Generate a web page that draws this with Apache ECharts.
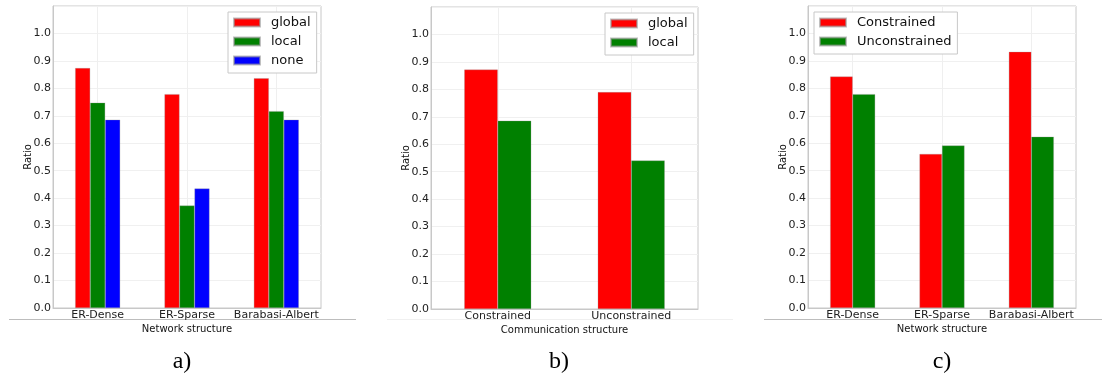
<!DOCTYPE html>
<html>
<head>
<meta charset="utf-8">
<script src="https://cdn.jsdelivr.net/npm/echarts@6/dist/echarts.min.js"></script>
<style>
html,body{margin:0;padding:0;background:#fff;}
#chart{width:1102px;height:379px;}
</style>
</head>
<body>
<div id="chart"></div>
<script>
// Panel a
const catsA = ['ER-Dense', 'ER-Sparse', 'Barabasi-Albert'];
const globalA = [0.874, 0.779, 0.837];
const localA = [0.748, 0.373, 0.717];
const noneA = [0.686, 0.435, 0.686];
// Panel b
const catsB = ['Constrained', 'Unconstrained'];
const globalB = [0.872, 0.790];
const localB = [0.686, 0.541];
// Panel c
const catsC = ['ER-Dense', 'ER-Sparse', 'Barabasi-Albert'];
const constrainedC = [0.843, 0.561, 0.933];
const unconstrainedC = [0.779, 0.592, 0.624];
// Axis tick labels
const yTicks = [0.0, 0.1, 0.2, 0.3, 0.4, 0.5, 0.6, 0.7, 0.8, 0.9, 1.0];

const RED = '#ff0000', GREEN = '#008000', BLUE = '#0000ff';
const FONT = 'DejaVu Sans';

const grids = [
  {left: 53, top: 6, width: 268, height: 302},
  {left: 431, top: 7, width: 267, height: 302},
  {left: 808, top: 6, width: 268, height: 302}
];

function xAx(i, cats, name) {
  return {
    type: 'category', gridIndex: i, data: cats,
    name: name, nameLocation: 'middle', nameGap: 16, nameMoveOverlap: false,
    nameTextStyle: {fontFamily: FONT, fontSize: 10, color: '#111'},
    axisLine: {show: true, lineStyle: {color: '#c8c8c8', width: 1}},
    axisTick: {show: false},
    axisLabel: {fontFamily: FONT, fontSize: 11, color: '#222', margin: 2, interval: 0},
    splitLine: {show: true, alignWithLabel: true, lineStyle: {color: '#efefef', width: 1}}
  };
}
function yAx(i) {
  return {
    type: 'value', gridIndex: i, min: 0, max: 1.1, interval: 0.1,
    name: 'Ratio', nameLocation: 'middle', nameGap: 20, nameMoveOverlap: false,
    nameTextStyle: {fontFamily: FONT, fontSize: 10, color: '#111'},
    axisLine: {show: true, lineStyle: {color: '#c8c8c8', width: 1}},
    axisTick: {show: false},
    axisLabel: {
      fontFamily: FONT, fontSize: 11, color: '#222', margin: 2,
      formatter: function (v) {
        const t = yTicks.find(x => Math.abs(x - v) < 1e-6);
        return t === undefined ? '' : t.toFixed(1);
      }
    },
    splitLine: {show: true, lineStyle: {color: '#f0f0f0', width: 1}}
  };
}
function bar(name, data, color, axis, w) {
  return {
    type: 'bar', name: name, data: data, xAxisIndex: axis, yAxisIndex: axis,
    barWidth: w, barGap: '0%',
    itemStyle: {color: color, borderColor: 'rgba(150,150,150,0.6)', borderWidth: 0.5},
    emphasis: {disabled: true}
  };
}
function legend(left, top, data) {
  return {
    left: left, top: top, orient: 'vertical', data: data,
    icon: 'rect', itemWidth: 26, itemHeight: 8, itemGap: 6,
    padding: [4, 6, 6, 5],
    borderColor: '#c8c8c8', borderWidth: 1, backgroundColor: '#fff',
    textStyle: {fontFamily: FONT, fontSize: 13, color: '#111', padding: [0, 0, 0, 6]},
    selectedMode: false
  };
}

const chart = echarts.init(document.getElementById('chart'), null, {renderer: 'canvas'});
chart.setOption({
  animation: false,
  backgroundColor: '#fff',
  grid: grids.map(g => Object.assign({show: true, borderColor: '#c8c8c8', borderWidth: 1, backgroundColor: 'transparent'}, g)),
  xAxis: [
    xAx(0, catsA, 'Network structure'),
    xAx(1, catsB, 'Communication structure'),
    xAx(2, catsC, 'Network structure')
  ],
  yAxis: [yAx(0), yAx(1), yAx(2)],
  legend: [
    legend(228, 12, ['global', 'local', 'none']),
    legend(605, 13, ['global', 'local']),
    legend(814, 12, ['Constrained', 'Unconstrained'])
  ],
  series: [
    bar('global', globalA, RED, 0, 15),
    bar('local', localA, GREEN, 0, 15),
    bar('none', noneA, BLUE, 0, 15),
    bar('global', globalB, RED, 1, 33.5),
    bar('local', localB, GREEN, 1, 33.5),
    bar('Constrained', constrainedC, RED, 2, 22.5),
    bar('Unconstrained', unconstrainedC, GREEN, 2, 22.5)
  ],
  graphic: [
    {type: 'line', shape: {x1: 9, y1: 319.5, x2: 356, y2: 319.5}, style: {stroke: '#bdbdbd', lineWidth: 1}},
    {type: 'line', shape: {x1: 387, y1: 319.5, x2: 733, y2: 319.5}, style: {stroke: '#f0f0f0', lineWidth: 1}},
    {type: 'line', shape: {x1: 764, y1: 319.5, x2: 1102, y2: 319.5}, style: {stroke: '#bdbdbd', lineWidth: 1}},
    {type: 'text', x: 182, y: 362, style: {text: 'a)', font: '24px "Liberation Serif"', fill: '#000', textAlign: 'center', textVerticalAlign: 'middle'}},
    {type: 'text', x: 559, y: 362, style: {text: 'b)', font: '24px "Liberation Serif"', fill: '#000', textAlign: 'center', textVerticalAlign: 'middle'}},
    {type: 'text', x: 942, y: 362, style: {text: 'c)', font: '24px "Liberation Serif"', fill: '#000', textAlign: 'center', textVerticalAlign: 'middle'}}
  ]
});
</script>
</body>
</html>
